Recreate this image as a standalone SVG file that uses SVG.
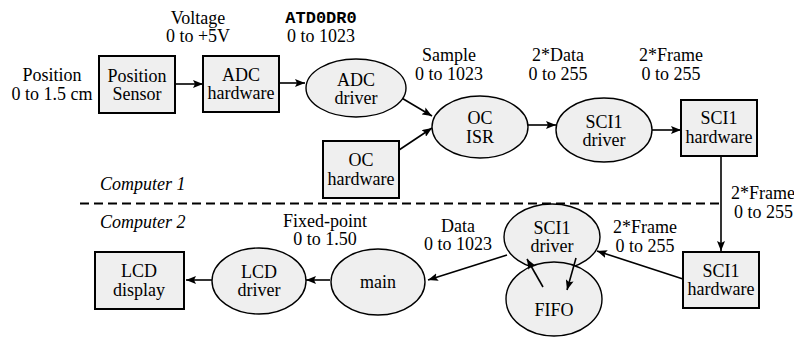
<svg xmlns="http://www.w3.org/2000/svg" width="794" height="339" viewBox="0 0 794 339">
<defs>
<marker id="ah" viewBox="0 0 10 8" refX="10" refY="4" markerWidth="10" markerHeight="8" markerUnits="userSpaceOnUse" orient="auto">
<path d="M0,0 L10,4 L0,8 L2,4 Z" fill="#000"/>
</marker>
</defs>
<rect width="794" height="339" fill="#fff"/>
<text font-size="18" font-family="Liberation Serif" text-anchor="middle" x="52" y="81">Position</text>
<text font-size="18" font-family="Liberation Serif" text-anchor="middle" x="52" y="100">0 to 1.5 cm</text>
<text font-size="18" font-family="Liberation Serif" text-anchor="middle" x="198" y="24">Voltage</text>
<text font-size="18" font-family="Liberation Serif" text-anchor="middle" x="198" y="42">0 to +5V</text>
<text font-size="17" font-family="Liberation Mono" font-weight="bold" text-anchor="middle" x="321" y="23">ATD0DR0</text>
<text font-size="18" font-family="Liberation Serif" text-anchor="middle" x="321" y="42">0 to 1023</text>
<text font-size="18" font-family="Liberation Serif" text-anchor="middle" x="449" y="61">Sample</text>
<text font-size="18" font-family="Liberation Serif" text-anchor="middle" x="449" y="80">0 to 1023</text>
<text font-size="18" font-family="Liberation Serif" text-anchor="middle" x="558" y="61">2*Data</text>
<text font-size="18" font-family="Liberation Serif" text-anchor="middle" x="558" y="80">0 to 255</text>
<text font-size="18" font-family="Liberation Serif" text-anchor="middle" x="671" y="61">2*Frame</text>
<text font-size="18" font-family="Liberation Serif" text-anchor="middle" x="671" y="80">0 to 255</text>
<text font-size="18" font-family="Liberation Serif" x="731" y="199">2*Frame</text>
<text font-size="18" font-family="Liberation Serif" x="734" y="218">0 to 255</text>
<text font-size="18" font-family="Liberation Serif" text-anchor="middle" x="325" y="227">Fixed-point</text>
<text font-size="18" font-family="Liberation Serif" text-anchor="middle" x="325" y="245">0 to 1.50</text>
<text font-size="18" font-family="Liberation Serif" text-anchor="middle" x="458" y="232">Data</text>
<text font-size="18" font-family="Liberation Serif" text-anchor="middle" x="458" y="250">0 to 1023</text>
<text font-size="18" font-family="Liberation Serif" text-anchor="middle" x="645" y="233">2*Frame</text>
<text font-size="18" font-family="Liberation Serif" text-anchor="middle" x="645" y="252">0 to 255</text>
<text font-size="18" font-family="Liberation Serif" font-style="italic" x="100" y="190">Computer 1</text>
<text font-size="18" font-family="Liberation Serif" font-style="italic" x="100" y="228">Computer 2</text>
<line x1="80" y1="203.5" x2="722" y2="203.5" stroke="#000" stroke-width="2" stroke-dasharray="9,5"/>
<g id="connectors" stroke="#000" stroke-width="1.6" fill="none" marker-end="url(#ah)">
<line x1="175" y1="84" x2="203" y2="84"/>
<line x1="279" y1="83" x2="305" y2="83"/>
<line x1="400" y1="97" x2="432" y2="116"/>
<line x1="399" y1="150" x2="432" y2="128"/>
<line x1="528" y1="125" x2="556" y2="125"/>
<line x1="652" y1="130" x2="681" y2="130"/>
<line x1="721" y1="156" x2="721" y2="251"/>
<line x1="683" y1="279" x2="597" y2="251"/>
<line x1="507" y1="255" x2="428" y2="280"/>
<line x1="330" y1="280" x2="306" y2="280"/>
<line x1="212" y1="280" x2="186" y2="280"/>
</g>
<g id="position-sensor"><rect fill="#efefef" stroke="#000" stroke-width="2" x="99" y="56" width="76" height="57"/><text font-size="18" font-family="Liberation Serif" text-anchor="middle" x="137" y="82">Position</text><text font-size="18" font-family="Liberation Serif" text-anchor="middle" x="137" y="100">Sensor</text></g>
<g id="adc-hardware"><rect fill="#efefef" stroke="#000" stroke-width="2" x="203" y="56" width="76" height="56"/><text font-size="18" font-family="Liberation Serif" text-anchor="middle" x="241" y="81">ADC</text><text font-size="18" font-family="Liberation Serif" text-anchor="middle" x="241" y="99">hardware</text></g>
<g id="adc-driver"><ellipse fill="#efefef" stroke="#000" stroke-width="1.4" cx="356" cy="88" rx="50" ry="29"/><text font-size="18" font-family="Liberation Serif" text-anchor="middle" x="356" y="86">ADC</text><text font-size="18" font-family="Liberation Serif" text-anchor="middle" x="356" y="104">driver</text></g>
<g id="oc-hardware"><rect fill="#efefef" stroke="#000" stroke-width="2" x="323" y="141" width="76" height="57"/><text font-size="18" font-family="Liberation Serif" text-anchor="middle" x="361" y="166">OC</text><text font-size="18" font-family="Liberation Serif" text-anchor="middle" x="361" y="185">hardware</text></g>
<g id="oc-isr"><ellipse fill="#efefef" stroke="#000" stroke-width="1.4" cx="480" cy="127" rx="48" ry="31"/><text font-size="18" font-family="Liberation Serif" text-anchor="middle" x="480" y="124">OC</text><text font-size="18" font-family="Liberation Serif" text-anchor="middle" x="480" y="143">ISR</text></g>
<g id="sci1-driver-1"><ellipse fill="#efefef" stroke="#000" stroke-width="1.4" cx="604" cy="130" rx="48" ry="32"/><text font-size="18" font-family="Liberation Serif" text-anchor="middle" x="604" y="128">SCI1</text><text font-size="18" font-family="Liberation Serif" text-anchor="middle" x="604" y="146">driver</text></g>
<g id="sci1-hardware-1"><rect fill="#efefef" stroke="#000" stroke-width="2" x="681" y="100" width="76" height="56"/><text font-size="18" font-family="Liberation Serif" text-anchor="middle" x="719" y="124">SCI1</text><text font-size="18" font-family="Liberation Serif" text-anchor="middle" x="719" y="143">hardware</text></g>
<g id="sci1-hardware-2"><rect fill="#efefef" stroke="#000" stroke-width="2" x="683" y="252" width="76" height="56"/><text font-size="18" font-family="Liberation Serif" text-anchor="middle" x="721" y="277">SCI1</text><text font-size="18" font-family="Liberation Serif" text-anchor="middle" x="721" y="295">hardware</text></g>
<g id="sci1-driver-2"><ellipse fill="#efefef" stroke="#000" stroke-width="1.4" cx="552" cy="237" rx="48" ry="33"/><text font-size="18" font-family="Liberation Serif" text-anchor="middle" x="552" y="234">SCI1</text><text font-size="18" font-family="Liberation Serif" text-anchor="middle" x="552" y="252">driver</text></g>
<g id="fifo"><ellipse fill="#efefef" stroke="#000" stroke-width="1.4" cx="554" cy="299" rx="48" ry="37"/><text font-size="18" font-family="Liberation Serif" text-anchor="middle" x="554" y="316">FIFO</text></g>
<g id="main"><ellipse fill="#efefef" stroke="#000" stroke-width="1.4" cx="378" cy="282" rx="47" ry="33"/><text font-size="18" font-family="Liberation Serif" text-anchor="middle" x="378" y="288">main</text></g>
<g id="lcd-driver"><ellipse fill="#efefef" stroke="#000" stroke-width="1.4" cx="259" cy="281" rx="47" ry="33"/><text font-size="18" font-family="Liberation Serif" text-anchor="middle" x="259" y="278">LCD</text><text font-size="18" font-family="Liberation Serif" text-anchor="middle" x="259" y="296">driver</text></g>
<g id="lcd-display"><rect fill="#efefef" stroke="#000" stroke-width="2" x="95" y="252" width="89" height="57"/><text font-size="18" font-family="Liberation Serif" text-anchor="middle" x="139" y="277">LCD</text><text font-size="18" font-family="Liberation Serif" text-anchor="middle" x="139" y="296">display</text></g>
<g id="fifo-connectors" stroke="#000" stroke-width="1.6" fill="none" marker-end="url(#ah)">
<line x1="543" y1="287" x2="527" y2="259"/>
<line x1="576" y1="258" x2="567" y2="290"/>
</g>
</svg>
